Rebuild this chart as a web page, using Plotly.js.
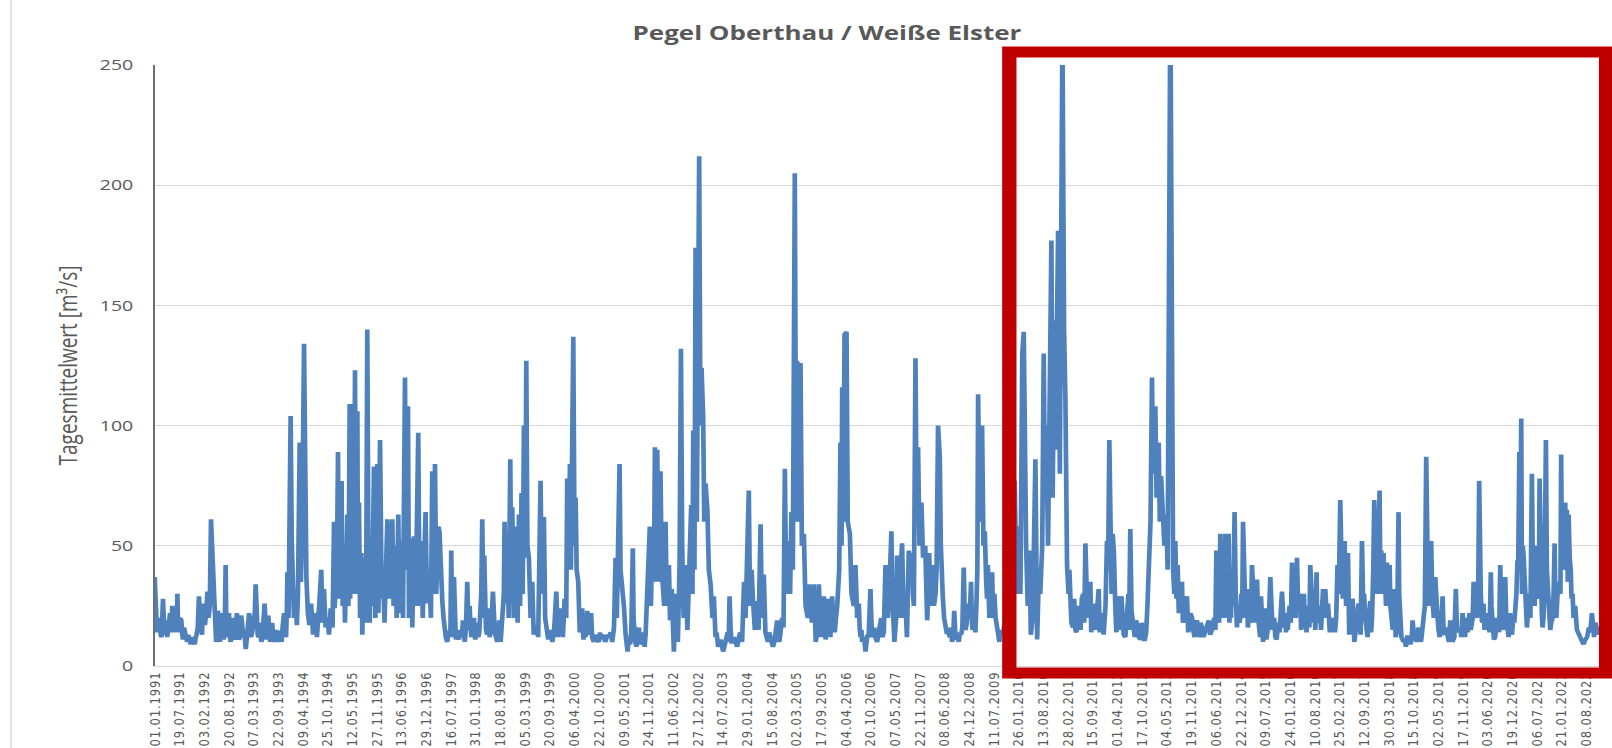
<!DOCTYPE html>
<html><head><meta charset="utf-8">
<script src="https://cdn.plot.ly/plotly-3.0.1.min.js"></script>
<style>
html,body{margin:0;padding:0;width:1612px;height:748px;overflow:hidden;background:#fff;}
#chart{position:absolute;left:0;top:0;width:1240px;height:748px;transform:scaleX(1.3);transform-origin:0 0;}
#frame{position:absolute;left:10px;top:0;width:2px;height:748px;background:#e4e4e4;}
#chart .xtick text{letter-spacing:0.9px;}
</style></head><body>
<div id="chart"></div><div id="frame"></div>
<script>
// Tick labels (every 199 days, as in the source chart)
const tickLabels = ["01.01.1991","19.07.1991","03.02.1992","20.08.1992","07.03.1993","22.09.1993","09.04.1994","25.10.1994","12.05.1995","27.11.1995","13.06.1996","29.12.1996","16.07.1997","31.01.1998","18.08.1998","05.03.1999","20.09.1999","06.04.2000","22.10.2000","09.05.2001","24.11.2001","11.06.2002","27.12.2002","14.07.2003","29.01.2004","15.08.2004","02.03.2005","17.09.2005","04.04.2006","20.10.2006","07.05.2007","22.11.2007","08.06.2008","24.12.2008","11.07.2009","26.01.2010","13.08.2010","28.02.2011","15.09.2011","01.04.2012","17.10.2012","04.05.2013","19.11.2013","06.06.2014","22.12.2014","09.07.2015","24.01.2016","10.08.2016","25.02.2017","12.09.2017","30.03.2018","15.10.2018","02.05.2019","17.11.2019","03.06.2020","19.12.2020","06.07.2021","21.01.2022","08.08.2022"];

// Daily mean discharge [m³/s] (date, value)
const flow1991_1996 = [["1991-01-01",37],["1991-01-12",16],["1991-01-20",14],["1991-02-10",20],["1991-02-25",12],["1991-03-09",28],["1991-03-20",13],["1991-04-05",19],["1991-04-18",15],["1991-05-05",22],["1991-05-23",25],["1991-06-05",14],["1991-06-20",22],["1991-07-03",30],["1991-07-15",14],["1991-08-04",19],["1991-08-17",11],["1991-09-05",14],["1991-09-20",10],["1991-10-05",12],["1991-10-18",9],["1991-11-05",11],["1991-11-20",9],["1991-12-05",13],["1991-12-24",29],
["1992-01-10",16],["1992-01-25",26],["1992-02-10",17],["1992-03-01",31],["1992-03-10",20],["1992-03-30",61],["1992-04-10",47],["1992-04-23",22],["1992-05-10",10],["1992-05-25",23],["1992-06-10",10],["1992-06-25",22],["1992-07-10",11],["1992-07-26",42],["1992-08-05",12],["1992-08-22",22],["1992-09-05",10],["1992-09-20",20],["1992-10-05",11],["1992-10-25",22],["1992-11-10",11],["1992-11-28",21],["1992-12-15",12],
["1993-01-04",7],["1993-01-15",14],["1993-01-31",22],["1993-02-15",12],["1993-03-10",20],["1993-03-25",34],["1993-04-10",13],["1993-04-25",18],["1993-05-10",10],["1993-05-25",16],["1993-06-05",26],["1993-06-20",11],["1993-07-05",21],["1993-07-20",10],["1993-08-05",18],["1993-08-20",10],["1993-09-05",15],["1993-09-20",10],["1993-10-05",14],["1993-10-20",10],["1993-11-09",22],["1993-11-25",12],["1993-12-06",39],["1993-12-15",20],
["1994-01-01",104],["1994-01-10",52],["1994-01-18",28],["1994-01-28",20],["1994-02-10",32],["1994-02-20",17],["1994-03-01",30],["1994-03-15",93],["1994-03-25",35],["1994-04-05",60],["1994-04-19",134],["1994-04-28",87],["1994-05-08",37],["1994-05-20",22],["1994-06-01",17],["1994-06-15",26],["1994-07-01",13],["1994-07-15",22],["1994-08-01",12],["1994-08-20",26],["1994-09-05",40],["1994-09-15",18],["1994-09-27",32],["1994-10-10",16],["1994-10-25",20],["1994-11-06",13],["1994-11-20",24],["1994-12-05",16],["1994-12-17",60],["1994-12-22",24],["1994-12-28",30],
["1995-01-10",45],["1995-01-18",89],["1995-01-23",28],["1995-01-28",50],["1995-02-05",30],["1995-02-16",77],["1995-02-20",35],["1995-02-25",25],["1995-03-07",42],["1995-03-15",18],["1995-03-25",40],["1995-04-03",63],["1995-04-12",25],["1995-04-22",109],["1995-04-26",28],["1995-05-01",40],["1995-05-13",109],["1995-05-20",30],["1995-05-28",45],["1995-06-04",123],["1995-06-12",30],["1995-06-23",106],["1995-06-28",30],["1995-07-06",68],["1995-07-15",20],["1995-07-25",47],["1995-08-02",13],["1995-08-10",35],["1995-08-20",45],["1995-09-01",18],["1995-09-11",140],["1995-09-20",47],["1995-10-01",18],["1995-10-08",47],["1995-10-20",25],["1995-11-04",83],["1995-11-10",30],["1995-11-15",20],["1995-11-22",50],["1995-12-01",84],["1995-12-10",22],["1995-12-23",94],
["1996-01-05",28],["1996-01-16",40],["1996-01-28",18],["1996-02-06",30],["1996-02-20",61],["1996-03-05",28],["1996-03-18",45],["1996-03-31",61],["1996-04-10",25],["1996-04-25",50],["1996-05-05",20],["1996-05-18",63],["1996-05-28",22],["1996-06-14",52],["1996-06-25",20],["1996-07-11",120],["1996-07-20",40],["1996-08-04",108],["1996-08-12",20],["1996-08-20",45],["1996-08-31",53],["1996-09-08",16],["1996-09-21",54],["1996-10-05",25],["1996-10-26",97],["1996-11-05",25],["1996-11-20",52],["1996-12-01",20],["1996-12-24",64]];

const flow1997_2003 = [["1997-01-05",26],["1997-01-20",40],["1997-02-05",20],["1997-02-16",81],["1997-02-25",30],["1997-03-10",84],["1997-03-20",30],["1997-04-06",58],["1997-04-15",56],["1997-04-25",35],["1997-05-08",27],["1997-05-25",14],["1997-06-17",10],["1997-07-05",14],["1997-07-19",48],["1997-07-28",12],["1997-08-10",37],["1997-08-25",11],["1997-09-19",11],["1997-10-05",14],["1997-10-21",19],["1997-11-05",10],["1997-11-25",35],["1997-12-05",15],["1997-12-14",25],["1997-12-28",12],
["1998-01-18",20],["1998-02-05",13],["1998-02-22",12],["1998-03-10",25],["1998-03-26",61],["1998-04-05",20],["1998-04-11",46],["1998-04-25",15],["1998-05-14",24],["1998-05-25",12],["1998-06-20",31],["1998-07-05",14],["1998-07-25",10],["1998-08-10",19],["1998-08-21",10],["1998-09-10",25],["1998-09-22",60],["1998-10-05",26],["1998-10-14",50],["1998-10-25",20],["1998-11-07",86],["1998-11-15",30],["1998-11-23",66],["1998-12-05",20],["1998-12-20",58],
["1999-01-05",18],["1999-01-16",63],["1999-01-25",25],["1999-02-06",72],["1999-02-15",30],["1999-02-25",100],["1999-03-08",45],["1999-03-16",127],["1999-03-25",50],["1999-04-06",45],["1999-04-20",20],["1999-05-03",35],["1999-05-15",13],["1999-06-05",17],["1999-06-20",12],["1999-07-09",77],["1999-07-20",30],["1999-08-05",62],["1999-08-15",20],["1999-09-09",11],["1999-09-25",15],["1999-10-12",10],["1999-10-28",16],["1999-11-13",31],["1999-11-25",12],["1999-12-18",24],
["2000-01-05",12],["2000-01-19",28],["2000-02-01",20],["2000-02-09",78],["2000-02-20",40],["2000-03-02",84],["2000-03-10",40],["2000-03-29",137],["2000-04-08",50],["2000-04-17",70],["2000-04-25",40],["2000-05-08",35],["2000-05-20",14],["2000-06-09",24],["2000-06-20",11],["2000-07-06",12],["2000-07-20",23],["2000-08-02",14],["2000-08-20",22],["2000-09-11",10],["2000-09-25",12],["2000-10-22",10],["2000-11-15",13],["2000-12-14",10],
["2001-01-10",12],["2001-02-06",10],["2001-02-20",16],["2001-03-05",45],["2001-03-15",20],["2001-04-06",84],["2001-04-14",40],["2001-04-28",34],["2001-05-11",25],["2001-05-25",13],["2001-06-10",6],["2001-06-20",12],["2001-07-22",49],["2001-08-01",12],["2001-08-20",8],["2001-09-09",16],["2001-09-25",10],["2001-10-10",14],["2001-10-25",8],["2001-11-02",13],["2001-11-15",27],["2001-12-06",58],["2001-12-15",25],["2001-12-28",58],
["2002-01-08",35],["2002-01-16",91],["2002-01-25",50],["2002-02-04",90],["2002-02-15",35],["2002-03-02",81],["2002-03-12",40],["2002-03-21",29],["2002-04-01",25],["2002-04-12",60],["2002-04-22",25],["2002-05-09",42],["2002-05-18",19],["2002-06-01",32],["2002-06-18",6],["2002-07-05",30],["2002-07-20",10],["2002-08-03",42],["2002-08-14",132],["2002-08-24",50],["2002-09-05",20],["2002-09-20",42],["2002-10-05",15],["2002-10-17",35],["2002-11-05",67],["2002-11-15",30],["2002-11-21",98],["2002-12-01",40],["2002-12-10",174],["2002-12-20",60],
["2003-01-08",212],["2003-01-18",100],["2003-01-27",124],["2003-02-09",104],["2003-02-18",60],["2003-02-28",76],["2003-03-15",65],["2003-03-27",40],["2003-04-10",34],["2003-04-25",20],["2003-05-06",29],["2003-05-20",12],["2003-06-10",8],["2003-06-29",11],["2003-07-20",6],["2003-08-08",10],["2003-08-25",14],["2003-09-10",29],["2003-09-25",10],["2003-10-15",12],["2003-11-10",8],["2003-12-05",14],["2003-12-20",10]];

const flow2004_2010 = [["2004-01-05",35],["2004-01-17",20],["2004-02-12",73],["2004-02-22",25],["2004-03-06",40],["2004-03-16",28],["2004-04-01",15],["2004-04-20",27],["2004-05-01",15],["2004-05-17",59],["2004-05-28",20],["2004-06-12",38],["2004-06-25",14],["2004-07-15",10],["2004-08-05",12],["2004-08-25",8],["2004-09-28",19],["2004-10-15",10],["2004-11-07",20],["2004-11-29",82],["2004-12-10",30],["2004-12-31",52],
["2005-01-10",30],["2005-01-21",64],["2005-02-01",40],["2005-02-17",205],["2005-02-28",60],["2005-03-08",127],["2005-03-18",60],["2005-04-04",126],["2005-04-15",50],["2005-05-01",55],["2005-05-15",25],["2005-06-10",34],["2005-06-25",20],["2005-07-20",34],["2005-08-05",10],["2005-08-30",34],["2005-09-15",12],["2005-10-10",29],["2005-10-23",11],["2005-11-15",28],["2005-12-01",12],["2005-12-15",29],
["2006-01-05",14],["2006-01-25",25],["2006-02-10",40],["2006-02-20",93],["2006-03-01",50],["2006-03-06",116],["2006-03-15",60],["2006-03-25",138],["2006-04-10",139],["2006-04-20",60],["2006-05-07",55],["2006-05-20",30],["2006-06-08",25],["2006-06-21",42],["2006-07-05",20],["2006-07-18",26],["2006-08-01",12],["2006-08-14",10],["2006-09-10",6],["2006-09-25",13],["2006-10-20",32],["2006-11-05",12],["2006-11-20",16],["2006-12-13",10],
["2007-01-05",16],["2007-01-25",12],["2007-02-18",42],["2007-03-01",25],["2007-03-20",30],["2007-04-07",56],["2007-04-20",19],["2007-05-01",10],["2007-05-23",46],["2007-06-05",25],["2007-06-20",40],["2007-07-02",51],["2007-07-15",20],["2007-07-29",27],["2007-08-10",12],["2007-08-25",48],["2007-09-10",40],["2007-09-21",47],["2007-10-05",25],["2007-10-18",128],["2007-10-28",60],["2007-11-08",91],["2007-11-19",50],["2007-12-05",68],["2007-12-18",45],
["2008-01-05",50],["2008-01-20",19],["2008-02-05",47],["2008-02-15",30],["2008-02-29",42],["2008-03-15",25],["2008-04-05",40],["2008-04-17",100],["2008-05-01",87],["2008-05-09",51],["2008-05-25",29],["2008-06-15",16],["2008-07-10",14],["2008-08-08",10],["2008-08-25",23],["2008-09-10",11],["2008-10-01",10],["2008-10-20",13],["2008-11-10",41],["2008-11-25",15],["2008-12-13",26],["2008-12-28",20],
["2009-01-08",35],["2009-01-20",15],["2009-02-04",19],["2009-02-20",25],["2009-03-06",113],["2009-03-20",60],["2009-04-07",100],["2009-04-18",50],["2009-04-29",56],["2009-05-10",35],["2009-05-23",42],["2009-06-05",20],["2009-06-27",39],["2009-07-15",30],["2009-08-06",16],["2009-08-25",10],["2009-09-15",13],["2009-10-10",20],["2009-11-08",15],["2009-12-05",25],["2009-12-26",77],
["2010-01-10",30],["2010-01-28",58],["2010-02-10",30],["2010-02-25",130],["2010-03-09",139],["2010-03-18",65],["2010-03-28",50],["2010-04-10",25],["2010-04-24",48],["2010-05-05",13],["2010-05-20",20],["2010-06-11",86],["2010-06-25",11],["2010-07-08",37],["2010-07-20",30],["2010-08-05",50],["2010-08-17",130],["2010-08-25",80],["2010-09-05",100],["2010-09-21",50],["2010-10-05",110],["2010-10-18",177],["2010-10-28",70],["2010-11-11",144],["2010-11-20",90],["2010-12-11",181],["2010-12-25",80]];

const flow2011_2016 = [["2011-01-15",265],["2011-01-28",140],["2011-02-08",111],["2011-02-21",42],["2011-03-05",30],["2011-03-20",25],["2011-04-10",16],["2011-04-29",15],["2011-05-20",25],["2011-06-10",15],["2011-07-01",30],["2011-07-19",51],["2011-08-05",20],["2011-08-28",35],["2011-09-11",20],["2011-09-24",26],["2011-10-10",15],["2011-11-03",32],["2011-11-20",18],["2011-12-13",13],["2011-12-28",25],
["2012-01-09",52],["2012-01-28",94],["2012-02-05",50],["2012-02-24",55],["2012-03-05",47],["2012-03-17",23],["2012-04-01",29],["2012-04-12",15],["2012-05-05",29],["2012-05-23",13],["2012-06-19",20],["2012-07-15",57],["2012-07-25",23],["2012-08-11",15],["2012-09-01",19],["2012-09-21",12],["2012-10-15",18],["2012-10-31",11],["2012-11-20",14],["2012-12-10",45],["2012-12-25",60],
["2013-01-06",120],["2013-01-15",80],["2013-02-02",108],["2013-02-12",70],["2013-03-01",93],["2013-03-10",60],["2013-03-20",79],["2013-04-05",63],["2013-04-16",50],["2013-05-01",63],["2013-05-12",40],["2013-06-03",280],["2013-06-15",101],["2013-07-13",52],["2013-08-01",42],["2013-08-20",25],["2013-09-05",35],["2013-09-20",20],["2013-10-15",29],["2013-11-01",16],["2013-11-25",20],["2013-12-15",12],
["2014-01-04",19],["2014-01-25",12],["2014-02-13",16],["2014-03-10",14],["2014-04-08",19],["2014-05-10",16],["2014-06-09",48],["2014-06-25",20],["2014-07-11",55],["2014-07-20",24],["2014-08-01",32],["2014-08-20",55],["2014-09-01",20],["2014-09-16",55],["2014-09-28",25],["2014-10-13",40],["2014-11-03",64],["2014-11-12",30],["2014-11-22",16],["2014-12-05",25],["2014-12-19",20],
["2015-01-10",60],["2015-01-20",25],["2015-02-11",32],["2015-02-25",20],["2015-03-23",42],["2015-04-10",25],["2015-05-03",36],["2015-05-20",14],["2015-06-04",29],["2015-06-20",10],["2015-07-09",24],["2015-07-25",13],["2015-08-18",37],["2015-09-05",15],["2015-09-27",12],["2015-10-20",18],["2015-11-20",31],["2015-12-05",16],["2015-12-30",21],
["2016-01-20",25],["2016-02-09",43],["2016-02-20",20],["2016-03-20",45],["2016-04-05",22],["2016-04-29",19],["2016-05-15",30],["2016-05-26",15],["2016-07-05",42],["2016-07-20",20],["2016-08-07",25],["2016-08-25",39],["2016-09-11",18],["2016-10-16",32]];

const flow2016_2022 = [["2016-11-03",32],["2016-11-16",20],["2016-12-10",14],["2016-12-27",20],["2017-01-20",14],["2017-02-10",42],["2017-03-04",69],["2017-03-15",40],["2017-04-08",52],["2017-04-20",25],["2017-05-05",47],["2017-05-15",13],["2017-06-11",28],["2017-06-25",10],["2017-07-30",26],["2017-08-15",13],["2017-08-26",52],["2017-09-05",25],["2017-09-21",20],["2017-10-10",12],["2017-11-01",27],["2017-11-15",20],["2017-12-03",69],["2017-12-15",50],
["2018-01-15",73],["2018-01-28",48],["2018-02-16",47],["2018-03-01",35],["2018-03-15",43],["2018-04-06",42],["2018-04-20",20],["2018-05-13",32],["2018-05-25",12],["2018-06-17",64],["2018-06-28",20],["2018-07-27",10],["2018-08-15",8],["2018-09-06",12],["2018-09-20",9],["2018-10-08",19],["2018-10-25",12],["2018-11-25",16],["2018-12-15",10],
["2019-01-05",20],["2019-01-26",87],["2019-02-10",30],["2019-03-07",52],["2019-03-20",25],["2019-04-09",37],["2019-04-25",22],["2019-05-15",12],["2019-06-07",29],["2019-06-25",13],["2019-07-20",12],["2019-08-08",19],["2019-08-25",10],["2019-09-22",32],["2019-10-10",14],["2019-11-15",22],["2019-12-05",12],
["2020-01-02",18],["2020-01-20",15],["2020-02-12",35],["2020-03-01",30],["2020-03-28",77],["2020-04-10",30],["2020-05-02",26],["2020-05-20",22],["2020-06-30",39],["2020-07-15",14],["2020-08-04",12],["2020-09-14",42],["2020-09-25",18],["2020-10-24",37],["2020-11-10",14],["2020-12-01",22],["2020-12-17",13],
["2021-01-15",25],["2021-01-31",44],["2021-02-15",89],["2021-03-02",103],["2021-03-15",50],["2021-04-01",35],["2021-04-17",16],["2021-05-05",30],["2021-05-27",80],["2021-06-10",30],["2021-06-28",37],["2021-07-15",30],["2021-07-28",78],["2021-08-10",25],["2021-08-21",16],["2021-09-17",94],["2021-10-05",30],["2021-10-22",15],["2021-11-10",20],["2021-11-26",51],["2021-12-10",20],
["2022-01-05",35],["2022-01-18",88],["2022-02-01",50],["2022-02-20",68],["2022-03-05",65],["2022-03-19",63],["2022-04-05",40],["2022-04-20",30],["2022-05-11",25],["2022-06-10",13],["2022-07-17",9],["2022-08-15",12],["2022-09-23",22],["2022-10-10",12],["2022-11-02",15],["2022-12-07",13],["2022-12-31",12]];

// Additional day-to-day fluctuations of the low-flow band
const band1990s = [["1991-01-28",18],["1991-02-18",13],["1991-03-02",18],["1991-03-28",18],["1991-04-12",12],["1991-04-25",20],["1991-05-14",14],["1991-06-12",18],["1991-06-28",16],["1991-07-08",17],["1991-07-25",20],["1991-08-10",14],["1991-08-25",16],["1991-09-12",11],["1991-09-28",13],["1991-10-12",10],["1991-10-26",12],["1991-11-12",10],["1991-11-28",12],["1991-12-14",16],
["1992-01-03",20],["1992-01-18",13],["1992-02-02",20],["1992-02-20",22],["1992-03-20",25],["1992-04-16",30],["1992-05-02",14],["1992-05-18",12],["1992-06-02",17],["1992-06-18",14],["1992-07-03",16],["1992-07-18",14],["1992-07-31",20],["1992-08-14",15],["1992-08-29",12],["1992-09-13",16],["1992-09-28",12],["1992-10-15",16],["1992-11-02",14],["1992-11-19",12],["1992-12-05",18],["1992-12-25",14],
["1993-01-10",10],["1993-01-24",16],["1993-02-08",18],["1993-02-25",14],["1993-03-18",22],["1993-04-02",18],["1993-04-18",12],["1993-05-02",14],["1993-05-18",12],["1993-06-13",18],["1993-06-28",15],["1993-07-13",14],["1993-07-28",16],["1993-08-13",12],["1993-08-28",14],["1993-09-13",12],["1993-09-28",14],["1993-10-13",12],["1993-10-28",16],["1993-11-17",14],["1993-12-01",22],
["1997-05-18",20],["1997-06-05",12],["1997-06-25",14],["1997-07-12",12],["1997-08-03",14],["1997-08-18",16],["1997-09-05",13],["1997-09-28",15],["1997-10-13",12],["1997-11-15",16],["1997-12-20",18],
["1998-01-05",16],["1998-01-28",11],["1998-02-14",18],["1998-03-02",14],["1998-03-18",30],["1998-04-18",22],["1998-05-05",13],["1998-06-05",15],["1998-06-28",20],["1998-07-15",12],["1998-08-01",13],["1998-08-30",15],["1998-09-16",30]];

const band2000s = [["2000-05-28",20],["2000-06-15",14],["2000-06-28",16],["2000-07-13",16],["2000-07-28",13],["2000-08-10",18],["2000-08-28",12],["2000-09-18",13],["2000-10-05",11],["2000-10-30",14],["2000-11-02",12],["2000-11-28",11],["2000-12-28",13],
["2001-01-25",14],["2001-06-30",9],["2001-07-10",15],["2001-07-28",20],["2001-08-10",10],["2001-08-30",12],["2001-09-17",9],["2001-10-02",11],["2001-10-18",10],
["2003-05-28",14],["2003-06-20",10],["2003-07-08",9],["2003-07-30",8],["2003-08-17",12],["2003-09-03",10],["2003-09-18",16],["2003-10-05",10],["2003-10-28",10],["2003-11-25",12],["2004-06-20",22],["2004-07-05",12],["2004-07-25",14],["2004-08-15",10],["2004-09-05",10],["2004-09-15",14],["2004-10-05",12],["2004-10-25",14],["2004-11-18",16],
["2005-06-02",20],["2005-06-18",28],["2005-07-05",18],["2005-07-28",20],["2005-08-15",14],["2005-08-22",18],["2005-09-05",20],["2005-09-25",16],["2005-10-02",20],["2005-10-30",18],["2005-11-05",14],["2005-11-25",18],["2005-12-08",20],["2005-12-25",18],["2006-01-15",20],["2006-07-25",16],["2006-08-08",15],["2006-08-22",12],["2006-09-02",10],["2006-10-05",12],["2006-10-28",18],["2006-11-28",12],["2006-12-25",14],
["2007-01-15",20],["2007-02-05",14],["2007-02-25",30],["2007-03-10",20],["2007-04-14",30],["2007-05-15",20],["2007-06-13",20],["2007-07-22",30],["2007-08-18",25],["2007-09-28",30],["2008-01-12",35],["2008-01-28",28],["2008-02-22",25],["2008-03-28",30],["2008-05-16",35],["2008-06-05",20],["2008-06-25",14],["2008-07-20",12],["2008-07-30",16],["2008-08-18",12],["2008-09-02",15],["2008-09-20",12],["2008-10-10",14],["2008-10-30",16],["2008-11-18",22],["2008-12-05",18],
["2009-01-14",20],["2009-01-28",22],["2009-02-12",14],["2009-02-28",40],["2009-05-02",40],["2009-05-17",28],["2009-06-15",30],["2009-07-05",20],["2009-07-25",20],["2009-08-15",14],["2009-09-01",15],["2009-09-28",15],["2009-10-22",14],["2009-11-20",20],["2009-12-15",18]];

const band2010s = [["2011-03-12",40],["2011-03-28",18],["2011-04-20",28],["2011-05-08",14],["2011-05-30",20],["2011-06-20",28],["2011-07-10",18],["2011-08-15",28],["2011-09-04",14],["2011-10-20",25],["2011-11-12",14],["2011-12-05",22],
["2012-01-18",40],["2012-02-15",30],["2012-03-25",14],["2012-04-20",25],["2012-05-14",20],["2012-06-05",12],["2012-06-30",30],["2012-07-05",15],["2012-08-01",20],["2012-08-20",12],["2012-09-10",16],["2012-10-05",11],["2012-10-22",16],["2012-11-10",11],["2012-11-30",25],
["2013-06-25",40],["2013-07-05",30],["2013-07-22",28],["2013-08-10",22],["2013-08-28",30],["2013-09-12",18],["2013-10-01",24],["2013-10-25",14],["2013-11-12",22],["2013-12-05",15],["2013-12-25",18],
["2014-01-15",14],["2014-02-02",18],["2014-02-25",12],["2014-03-22",17],["2014-04-20",13],["2014-05-22",20],["2014-06-01",15],["2014-06-16",30],["2014-07-01",18],["2014-07-28",20],["2014-08-10",24],["2014-08-28",22],["2014-09-08",30],["2014-09-22",18],["2014-10-05",20],["2014-10-22",25],["2014-11-28",22],["2014-12-12",18],["2014-12-28",30],
["2015-01-03",20],["2015-01-30",20],["2015-02-18",16],["2015-03-05",22],["2015-03-15",18],["2015-04-01",28],["2015-04-22",18],["2015-05-12",20],["2015-05-28",12],["2015-06-12",18],["2015-06-28",15],["2015-07-17",11],["2015-08-05",18],["2015-08-28",20],["2015-09-18",20],["2015-10-08",11],["2015-11-01",14],["2015-11-10",20],["2015-12-15",22],["2015-12-22",14],
["2016-01-05",15],["2016-01-30",18],["2016-02-28",30],["2016-03-10",20],["2016-03-28",28],["2016-04-15",30],["2016-04-22",15],["2016-05-05",18],["2016-05-20",22],["2016-06-05",14],["2016-06-20",25],["2016-06-28",16],["2016-07-28",18],["2016-08-15",15],["2016-08-30",20],["2016-09-20",25],["2016-09-30",15],["2016-10-05",20],["2016-10-25",20],
["2016-11-25",26],["2016-12-18",20],["2017-01-05",18],["2017-01-30",20],["2017-02-20",30],["2017-03-25",28],["2017-04-28",30],["2017-05-25",20],["2017-06-05",14],["2017-06-18",22],["2017-07-05",14],["2017-07-15",18],["2017-08-05",20],["2017-09-12",30],["2017-09-30",14],["2017-10-20",20],["2017-11-08",14],["2017-11-25",40],["2017-12-25",30],
["2018-01-05",40],["2018-01-22",30],["2018-02-05",40],["2018-02-25",30],["2018-03-08",25],["2018-03-25",30],["2018-04-12",25],["2018-05-01",15],["2018-05-18",20],["2018-06-05",15],["2018-06-22",30],["2018-07-10",12],["2018-08-05",11],["2018-08-25",12],["2018-10-01",11],["2018-10-15",15],["2018-11-10",10],["2018-12-05",14],["2018-12-25",15],
["2019-01-15",25],["2019-01-31",40],["2019-02-20",25],["2019-02-28",35],["2019-03-15",30],["2019-03-28",20],["2019-04-17",25],["2019-05-05",15],["2019-05-28",18],["2019-06-15",14],["2019-07-05",16],["2019-07-28",10],["2019-08-15",14],["2019-09-10",12],["2019-09-30",16],["2019-10-25",16],["2019-11-05",12],["2019-11-25",15],["2019-12-15",20],["2019-12-25",14]];

const band2020s = [["2020-01-10",22],["2020-01-28",20],["2020-02-05",20],["2020-02-20",25],["2020-03-10",20],["2020-03-20",30],["2020-04-20",18],["2020-05-10",15],["2020-06-10",18],["2020-06-20",14],["2020-07-05",25],["2020-07-25",11],["2020-08-20",20],["2020-09-05",14],["2020-10-05",15],["2020-10-15",25],["2020-11-01",20],["2020-11-20",12],["2020-12-10",18],["2020-12-28",20],
["2021-01-05",18],["2021-01-22",30],["2021-02-05",40],["2021-02-22",45],["2021-03-08",30],["2021-03-22",45],["2021-04-10",25],["2021-04-25",22],["2021-05-15",20],["2021-05-20",40],["2021-06-03",45],["2021-06-18",25],["2021-07-05",50],["2021-07-22",28],["2021-08-03",45],["2021-08-15",22],["2021-08-28",20],["2021-09-05",30],["2021-09-25",40],["2021-10-15",20],["2021-10-30",18],["2021-11-18",30],["2021-12-03",25],["2021-12-20",30],
["2022-01-12",30],["2022-01-25",40],["2022-02-10",45],["2022-02-27",40],["2022-03-12",35],["2022-03-28",45],["2022-04-12",28],["2022-04-28",20],["2022-05-25",15],["2022-06-25",12],["2022-07-05",10],["2022-08-01",11],["2022-08-30",16],["2022-09-10",14],["2022-10-02",16],["2022-10-20",18],["2022-11-15",13],["2022-11-25",16],["2022-12-20",12]];

const chartTitle = "Pegel Oberthau / Weiße Elster";
const yTitle = "Tagesmittelwert [m³/s]";

const all = [].concat(flow1991_1996, flow1997_2003, flow2004_2010, flow2011_2016, flow2016_2022,
                      band1990s, band2000s, band2010s, band2020s)
  .sort((a, b) => (a[0] < b[0] ? -1 : a[0] > b[0] ? 1 : 0));
const xs = all.map(p => p[0]);
const ys = all.map(p => p[1]);
const tickVals = tickLabels.map(s => { const [d, m, y] = s.split('.'); return y + '-' + m + '-' + d; });

const trace = {
  x: xs, y: ys, type: 'scatter', mode: 'lines',
  line: {color: '#4F81BD', width: 3.6},
  hoverinfo: 'skip'
};

const layout = {
  width: 1240, height: 748,
  margin: {l: 118.5, r: 6, t: 65, b: 82, pad: 0},
  paper_bgcolor: '#ffffff', plot_bgcolor: '#ffffff',
  showlegend: false,
  title: {text: chartTitle, x: 0.513, xanchor: 'center', y: 0.956, yanchor: 'middle',
          font: {family: 'Open Sans', size: 20, color: '#595959', weight: 'bold'}},
  xaxis: {type: 'date', range: ['1991-01-01', '2022-12-31'], tickmode: 'array',
          tickvals: tickVals, ticktext: tickLabels, tickangle: -90,
          tickfont: {family: 'DejaVu Sans', size: 11.5, color: '#595959'},
          showgrid: false, showline: true, linecolor: '#d9d9d9', linewidth: 1,
          ticks: '', zeroline: false, automargin: false, fixedrange: true},
  yaxis: {range: [0, 250], tick0: 0, dtick: 50, showgrid: true, gridcolor: '#d9d9d9', gridwidth: 1,
          showline: true, linecolor: '#6e6e6e', linewidth: 1.5, ticks: '', zeroline: false,
          tickfont: {family: 'Open Sans', size: 15, color: '#595959'},
          ticklabelstandoff: 12,
          title: {text: yTitle, standoff: 12, font: {family: 'Open Sans', size: 19, color: '#595959'}},
          automargin: false, fixedrange: true},
  shapes: [{type: 'rect', xref: 'paper', yref: 'paper', x0: 0.5896, x1: 1.0013, y0: -0.0115, y1: 1.0216,
            line: {color: '#C00000', width: 11}, fillcolor: 'rgba(0,0,0,0)', layer: 'above'}]
};

Plotly.newPlot('chart', [trace], layout, {staticPlot: true, displayModeBar: false});
</script></body></html>
